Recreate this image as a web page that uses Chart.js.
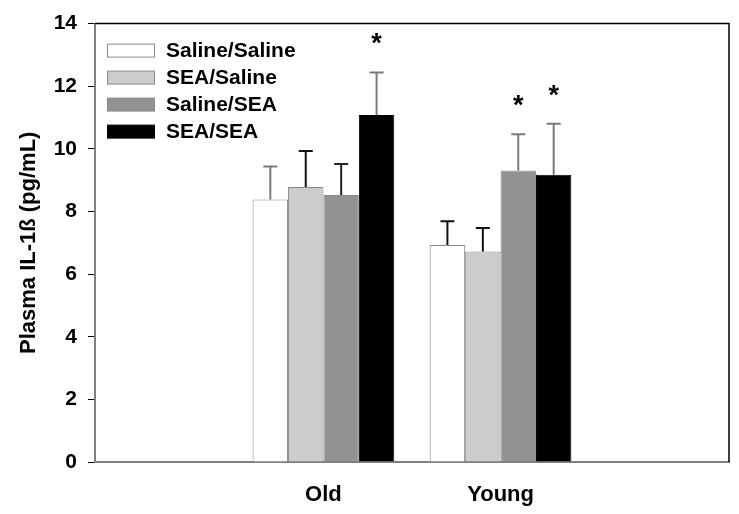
<!DOCTYPE html>
<html>
<head>
<meta charset="utf-8">
<script src="https://cdn.jsdelivr.net/npm/chart.js@4"></script>
<style>
  html, body { margin: 0; padding: 0; background: #fff; }
  #wrap { width: 739px; height: 514px; }
</style>
</head>
<body>
<div id="wrap"><canvas id="il1Chart"></canvas></div>
<script>
// data
const groups = ['Old', 'Young'];
const treatments = ['Saline/Saline', 'SEA/Saline', 'Saline/SEA', 'SEA/SEA'];
const salineSaline = [8.38, 6.93];
const seaSaline    = [8.78, 6.72];
const salineSea    = [8.53, 9.31];
const seaSea       = [11.08, 9.17];
// upper error (SEM)
const errSalineSaline = [1.06, 0.76];
const errSeaSaline    = [1.15, 0.75];
const errSalineSea    = [0.99, 1.16];
const errSeaSea       = [1.36, 1.63];
// significance marks (*)
const sigSalineSaline = [false, false];
const sigSeaSaline    = [false, false];
const sigSalineSea    = [false, true];
const sigSeaSea       = [true, true];
const yTicks = [0, 2, 4, 6, 8, 10, 12, 14];

const fills   = ['#ffffff', '#cccccc', '#929292', '#000000'];
const borders = ['#8a8a8a', '#8a8a8a', '#8a8a8a', '#000000'];
const whiskers = [['#7a7a7a', '#111'], ['#111', '#111'], ['#222', '#7a7a7a'], ['#7a7a7a', '#7a7a7a']];

const seriesVals = [salineSaline, seaSaline, salineSea, seaSea];
const seriesErr  = [errSalineSaline, errSeaSaline, errSalineSea, errSeaSea];
const seriesSig  = [sigSalineSaline, sigSeaSaline, sigSalineSea, sigSeaSea];

const FONT = '"Liberation Sans", Arial, sans-serif';

// error bars + asterisks
const errorBars = {
  id: 'errorBars',
  afterDatasetsDraw(chart) {
    const ctx = chart.ctx;
    const y = chart.scales.y;
    ctx.save();
    chart.data.datasets.forEach((ds, di) => {
      const meta = chart.getDatasetMeta(di);
      meta.data.forEach((bar, i) => {
        const top = y.getPixelForValue(seriesVals[di][i] + seriesErr[di][i]);
        ctx.strokeStyle = whiskers[di][i];
        ctx.lineWidth = 2;
        ctx.beginPath();
        ctx.moveTo(bar.x, bar.y);
        ctx.lineTo(bar.x, top);
        ctx.moveTo(bar.x - 7, top);
        ctx.lineTo(bar.x + 7, top);
        ctx.stroke();
        if (seriesSig[di][i]) {
          ctx.fillStyle = '#000';
          ctx.font = 'bold 27px ' + FONT;
          ctx.textAlign = 'center';
          ctx.textBaseline = 'alphabetic';
          ctx.fillText('*', bar.x, top - 29 + 9);
        }
      });
    });
    ctx.restore();
  }
};

// frame (top/right) and legend inside the plot
const frameLegend = {
  id: 'frameLegend',
  afterDraw(chart) {
    const ctx = chart.ctx;
    const a = chart.chartArea;
    ctx.save();
    ctx.strokeStyle = '#000';
    ctx.lineWidth = 1.5;
    ctx.beginPath();
    ctx.moveTo(a.left, a.top);
    ctx.lineTo(a.right, a.top);
    ctx.lineTo(a.right, a.bottom);
    ctx.stroke();

    ctx.font = 'bold 21px ' + FONT;
    ctx.textAlign = 'left';
    ctx.textBaseline = 'middle';
    treatments.forEach((t, i) => {
      const bx = a.left + 12.5, by = a.top + 20.5 + i * 27;
      ctx.fillStyle = fills[i];
      ctx.fillRect(bx, by, 47, 13);
      ctx.strokeStyle = borders[i];
      ctx.lineWidth = 1;
      ctx.strokeRect(bx, by, 47, 13);
      ctx.fillStyle = '#000';
      ctx.fillText(t, a.left + 71, by + 7.5);
    });
    ctx.restore();
  }
};

new Chart(document.getElementById('il1Chart'), {
  type: 'bar',
  data: {
    datasets: treatments.map((t, di) => ({
      label: t,
      data: seriesVals[di].map((v, i) => ({ x: i + 1, y: v })),
      backgroundColor: fills[di],
      borderColor: borders[di],
      borderWidth: 1,
      categoryPercentage: 0.8,
      barPercentage: 1.0
    }))
  },
  options: {
    responsive: true,
    maintainAspectRatio: false,
    animation: false,
    layout: { padding: { top: 19, right: 10, left: 0, bottom: 0 } },
    plugins: { legend: { display: false }, tooltip: { enabled: false } },
    scales: {
      x: {
        type: 'linear',
        offset: false,
        min: -0.29,
        max: 3.29,
        afterBuildTicks: s => { s.ticks = groups.map((g, i) => ({ value: i + 1 })); },
        afterFit: s => { s.height = 52; },
        grid: { display: false, offset: false },
        border: { color: '#808080', width: 2 },
        ticks: {
          padding: 12,
          color: '#000',
          font: { family: FONT, size: 22, weight: 'bold' },
          callback: v => groups[v - 1] || ''
        }
      },
      y: {
        min: 0,
        max: 14,
        afterBuildTicks: s => { s.ticks = yTicks.map(v => ({ value: v })); },
        afterFit: s => { s.width = 95; },
        grid: { drawOnChartArea: false, tickLength: 7, color: '#000', tickWidth: 1 },
        border: { color: '#808080', width: 2 },
        ticks: {
          padding: 11,
          color: '#000',
          font: { family: FONT, size: 21, weight: 'bold' }
        },
        title: {
          display: true,
          text: 'Plasma IL-1ß (pg/mL)',
          color: '#000',
          font: { family: FONT, size: 22, weight: 'bold' },
          padding: { top: 16, bottom: 0 }
        }
      }
    }
  },
  plugins: [errorBars, frameLegend]
});
</script>
</body>
</html>
